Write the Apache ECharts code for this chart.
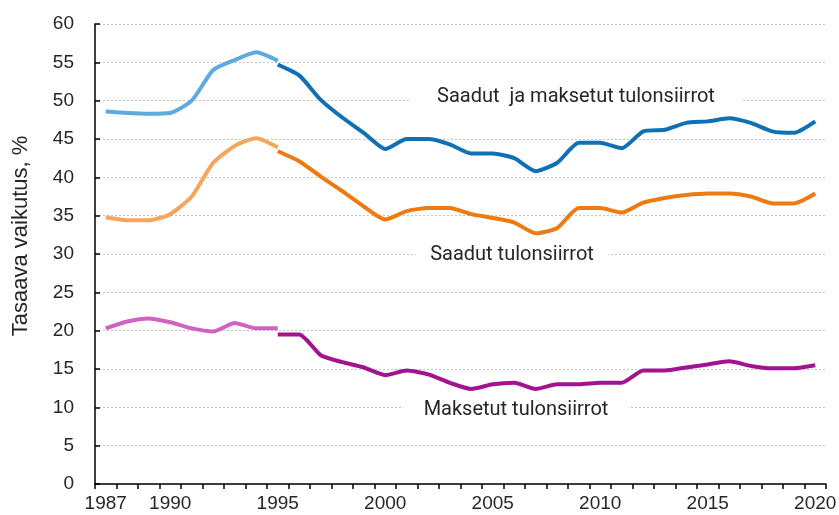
<!DOCTYPE html>
<html>
<head>
<meta charset="utf-8">
<script src="https://cdn.jsdelivr.net/npm/echarts@6/dist/echarts.min.js"></script>
<style>
	html, body { margin: 0; padding: 0; background: #fff; }
	#chart { width: 839px; height: 515px; }
</style>
</head>
<body>
<div id="chart"></div>
<script>
// years on the x axis
const years = [];
for (let y = 1987; y <= 2020; y++) years.push(String(y));
const shownYears = ["1987", "1990", "1995", "2000", "2005", "2010", "2015", "2020"];

// 1987-1995 (old series) and 1995-2020 (new series)
const bothOld = [48.6, 48.4, 48.3, 48.4, 50.0, 54.0, 55.3, 56.3, 55.2];
const bothNew = [54.7, 53.3, 50.1, 47.8, 45.8, 43.7, 45.0, 45.0, 44.3, 43.1, 43.1, 42.5, 40.8, 41.9, 44.5, 44.5, 43.8, 46.0, 46.2, 47.1, 47.3, 47.7, 47.1, 46.0, 45.8, 47.3];
const receivedOld = [34.8, 34.4, 34.4, 35.2, 37.5, 41.9, 44.1, 45.1, 43.9];
const receivedNew = [43.4, 42.1, 40.1, 38.2, 36.2, 34.5, 35.6, 36.0, 36.0, 35.2, 34.7, 34.1, 32.7, 33.4, 36.0, 36.0, 35.4, 36.7, 37.3, 37.7, 37.9, 37.9, 37.5, 36.6, 36.6, 37.9];
const paidOld = [20.3, 21.2, 21.6, 21.1, 20.3, 19.9, 21.0, 20.3, 20.3];
const paidNew = [19.5, 19.5, 16.8, 15.9, 15.2, 14.2, 14.8, 14.3, 13.2, 12.4, 13.0, 13.2, 12.4, 13.0, 13.0, 13.2, 13.2, 14.8, 14.8, 15.2, 15.6, 16.0, 15.4, 15.1, 15.1, 15.5];

// pad the segments to full length
function oldPart(vals) {
	return years.map((_, i) => (i < vals.length ? vals[i] : null));
}
function newPart(vals) {
	const start = years.length - vals.length;
	return years.map((_, i) => (i >= start ? vals[i - start] : null));
}

function lineSeries(name, data, color) {
	return {
		name: name,
		type: "line",
		data: data,
		symbol: "none",
		smooth: 0.2,
		connectNulls: false,
		lineStyle: { color: color, width: 4 },
		itemStyle: { color: color },
		z: 3,
	};
}

// annotation label with white box over the gridline
function note(text, x, y, pad) {
	return {
		type: "text",
		x: x,
		y: y,
		z: 10,
		style: {
			text: text,
			align: "center",
			verticalAlign: "middle",
			font: "20px Roboto, 'Liberation Sans', Arial, sans-serif",
			fill: "#262626",
			backgroundColor: "#fff",
			padding: [2, pad, 2, pad],
		},
	};
}

const chart = echarts.init(document.getElementById("chart"));

const option = {
	animation: false,
	backgroundColor: "#fff",
	grid: { left: 95, right: 13, top: 24, bottom: 31, containLabel: false, outerBoundsMode: "none" },
	xAxis: {
		type: "category",
		data: years,
		boundaryGap: true,
		axisLine: { lineStyle: { color: "#000", width: 1.5 } },
		axisTick: { show: true, interval: 0, length: 5, inside: false, lineStyle: { color: "#000", width: 1.5 } },
		axisLabel: {
			interval: (idx, val) => shownYears.indexOf(val) >= 0,
			color: "#262626",
			fontSize: 19,
			fontFamily: "'Liberation Sans', Arial, sans-serif",
			margin: 10,
			hideOverlap: false,
		},
		splitLine: { show: false },
	},
	yAxis: {
		type: "value",
		min: 0,
		max: 60,
		interval: 5,
		name: "Tasaava vaikutus, %",
		nameLocation: "middle",
		nameGap: 63,
		nameRotate: 90,
		nameTextStyle: {
			color: "#262626",
			fontSize: 22,
			fontFamily: "'Liberation Sans', Arial, sans-serif",
			padding: [0, 0, 0, 36],
		},
		axisLine: { show: true, lineStyle: { color: "#000", width: 1.5 } },
		axisTick: { show: true, inside: true, length: 5, lineStyle: { color: "#000", width: 1.5 } },
		axisLabel: {
			color: "#262626",
			fontSize: 19,
			fontFamily: "'Liberation Sans', Arial, sans-serif",
			margin: 21,
		},
		splitLine: { show: true, lineStyle: { color: "#c4c4c4", type: [2, 2], width: 1 } },
	},
	series: [
		lineSeries("Saadut ja maksetut (vanha)", oldPart(bothOld), "#5ea9dd"),
		lineSeries("Saadut ja maksetut", newPart(bothNew), "#1170b3"),
		lineSeries("Saadut (vanha)", oldPart(receivedOld), "#f5a65c"),
		lineSeries("Saadut", newPart(receivedNew), "#ee7a10"),
		lineSeries("Maksetut (vanha)", oldPart(paidOld), "#cf63c2"),
		lineSeries("Maksetut", newPart(paidNew), "#a1138f"),
	],
	graphic: [
		note("Saadut  ja maksetut tulonsiirrot", 576, 97, 27),
		note("Saadut tulonsiirrot", 512, 255, 15),
		note("Maksetut tulonsiirrot", 516, 410, 20),
	],
};

chart.setOption(option);
</script>
</body>
</html>
